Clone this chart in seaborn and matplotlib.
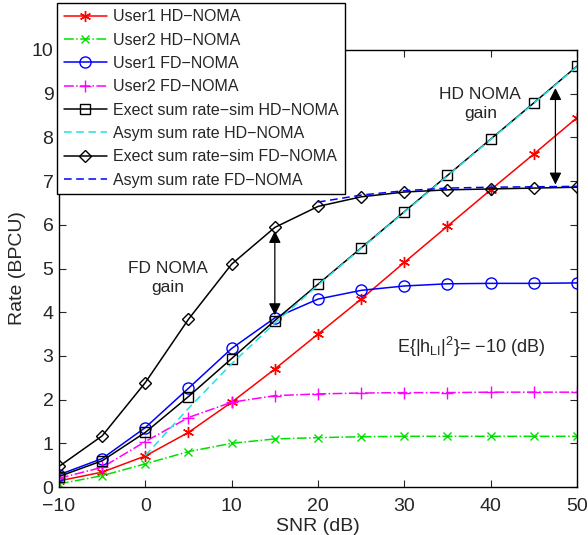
import numpy as np
import pandas as pd
import matplotlib
matplotlib.use("Agg")
import matplotlib.pyplot as plt
import seaborn as sns

snr = [-10, -5, 0, 5, 10, 15, 20, 25, 30, 35, 40, 45, 50]
user1_hd = [0.14, 0.34, 0.71, 1.25, 1.94, 2.70, 3.50, 4.30, 5.14, 5.97, 6.80, 7.62, 8.45]
user2_hd = [0.07, 0.26, 0.53, 0.81, 1.00, 1.10, 1.13, 1.15, 1.16, 1.16, 1.16, 1.16, 1.16]
user1_fd = [0.28, 0.65, 1.36, 2.26, 3.17, 3.87, 4.30, 4.50, 4.60, 4.65, 4.66, 4.66, 4.67]
user2_fd = [0.20, 0.45, 1.04, 1.59, 1.94, 2.09, 2.13, 2.15, 2.16, 2.16, 2.17, 2.17, 2.17]
exact_hd = [0.24, 0.60, 1.25, 2.07, 2.94, 3.81, 4.64, 5.47, 6.30, 7.13, 7.96, 8.79, 9.63]
snr_asym_hd = [0, 5, 10, 15, 20, 25, 30, 35, 40, 45, 50]
asym_hd = [0.72, 1.80, 2.82, 3.75, 4.62, 5.46, 6.29, 7.12, 7.95, 8.78, 9.62]
exact_fd = [0.47, 1.17, 2.39, 3.84, 5.10, 5.94, 6.42, 6.64, 6.75, 6.80, 6.82, 6.84, 6.86]
snr_asym_fd = [20, 25, 30, 35, 40, 45, 50]
asym_fd = [6.52, 6.68, 6.78, 6.84, 6.86, 6.87, 6.88]

labels = ["User1 HD\u2212NOMA", "User2 HD\u2212NOMA", "User1 FD\u2212NOMA", "User2 FD\u2212NOMA",
          "Exect sum rate\u2212sim HD\u2212NOMA", "Asym sum rate HD\u2212NOMA",
          "Exect sum rate\u2212sim FD\u2212NOMA", "Asym sum rate FD\u2212NOMA"]

sns.set_style("ticks")
plt.rcParams['font.family'] = ['Liberation Sans', 'DejaVu Sans']
plt.rcParams['mathtext.default'] = 'regular'

fig = plt.figure(figsize=(5.88, 5.35), dpi=100)
ax = fig.add_axes([59/588, 1-487/535, 518/588, 437/535])

series = [
    (snr, user1_hd, dict(color='#ff0000', linestyle='-', marker=(6, 2, 0), markersize=8)),
    (snr, user2_hd, dict(color='#00e000', linestyle='-.', marker='x', markersize=6)),
    (snr, user1_fd, dict(color='#0000ff', linestyle='-', marker='o', markersize=8, mfc='none')),
    (snr, user2_fd, dict(color='#ff00ff', linestyle='-.', marker='+', markersize=9)),
    (snr, exact_hd, dict(color='black', linestyle='-', marker='s', markersize=6.5, mfc='none')),
    (snr_asym_hd, asym_hd, dict(color='#22e0e0', linestyle=(0, (5, 3)))),
    (snr, exact_fd, dict(color='black', linestyle='-', marker='D', markersize=6.5, mfc='none')),
    (snr_asym_fd, asym_fd, dict(color='#0000ff', linestyle=(0, (5, 3)))),
]

for (xs, ys, kw), lab in zip(series, labels):
    df = pd.DataFrame({'snr': xs, 'rate': ys})
    if 'marker' in kw:
        kw = dict(kw, markeredgecolor=kw['color'], markeredgewidth=1.0)
    sns.lineplot(data=df, x='snr', y='rate', ax=ax, label=lab, linewidth=1.1, **kw)

ax.set_xlim(-10, 50)
ax.set_ylim(0, 10)
ax.set_xticks(np.arange(-10, 51, 10))
ax.set_yticks(np.arange(0, 11, 1))
ax.tick_params(direction='in', top=True, right=True, length=5, width=0.8, labelsize=14)
ax.tick_params(axis='x', pad=8)
ax.tick_params(axis='y', pad=4)
for s in ax.spines.values():
    s.set_linewidth(1.0)
    s.set_color('black')
ax.set_xlabel('SNR (dB)', fontsize=14, labelpad=2)
ax.set_ylabel('Rate (BPCU)', fontsize=14, labelpad=4)

# gain annotations
ax.annotate('', xy=(15, 5.86), xytext=(15, 3.93),
            arrowprops=dict(arrowstyle='<|-|>', color='black', lw=0.9,
                            mutation_scale=18, shrinkA=0, shrinkB=0))
ax.annotate('', xy=(47.5, 9.13), xytext=(47.5, 6.92),
            arrowprops=dict(arrowstyle='<|-|>', color='black', lw=0.9,
                            mutation_scale=18, shrinkA=0, shrinkB=0))
ax.text(2.63, 4.79, 'FD NOMA\ngain', ha='center', va='center', fontsize=12.5, linespacing=1.35)
ax.text(38.8, 8.77, 'HD NOMA\ngain', ha='center', va='center', fontsize=12.5, linespacing=1.35)
ax.text(37.7, 3.2, r'E{|h$_{LI}$|$^2$}= $-$10 (dB)', ha='center', va='center', fontsize=13)

leg = ax.legend(loc='lower left', bbox_to_anchor=(-0.003, (487-194)/437), borderaxespad=0,
                fontsize=11.5, frameon=True, fancybox=False, framealpha=1,
                handlelength=2.7, handletextpad=0.35, labelspacing=0.52, borderpad=0.4)
leg.get_frame().set_edgecolor('black')
leg.get_frame().set_linewidth(1.0)

fig.savefig('out.png', dpi=100)
